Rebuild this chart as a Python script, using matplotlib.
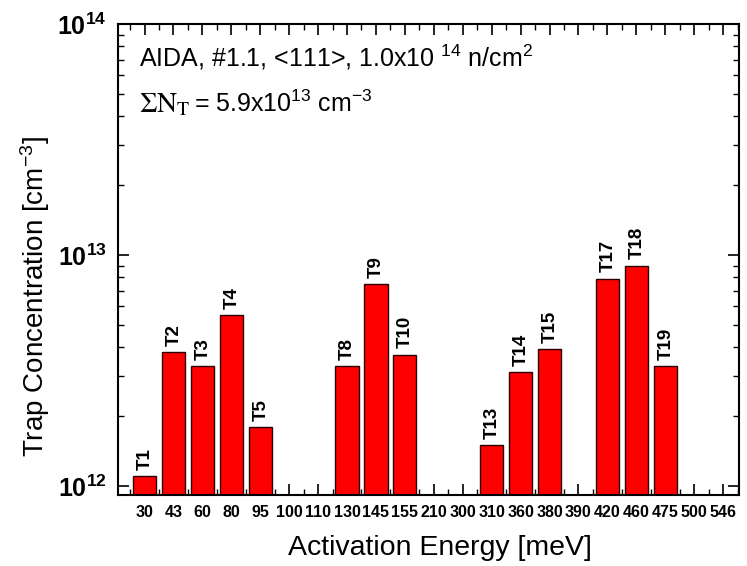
import numpy as np
import matplotlib
matplotlib.use("Agg")
import matplotlib.pyplot as plt
from matplotlib.ticker import FixedLocator, LogLocator, NullFormatter, FuncFormatter

# ---- data ----
energies = ['30', '43', '60', '80', '95', '100', '110', '130', '145', '155', '210',
            '300', '310', '360', '380', '390', '420', '460', '475', '500', '546']
trap_labels = ['T1', 'T2', 'T3', 'T4', 'T5', '', '', 'T8', 'T9', 'T10', '',
               '', 'T13', 'T14', 'T15', '', 'T17', 'T18', 'T19', '', '']
concentration = [1.1e12, 3.8e12, 3.3e12, 5.5e12, 1.8e12, np.nan, np.nan, 3.3e12, 7.5e12, 3.7e12, np.nan,
                 np.nan, 1.5e12, 3.1e12, 3.9e12, np.nan, 7.9e12, 9.0e12, 3.3e12, np.nan, np.nan]
y_decades = [12, 13, 14]

plt.rcParams['font.family'] = ['Liberation Sans', 'DejaVu Sans']
plt.rcParams['mathtext.fontset'] = 'custom'
plt.rcParams['mathtext.rm'] = 'Liberation Sans'
plt.rcParams['mathtext.it'] = 'Liberation Sans:italic'
plt.rcParams['mathtext.bf'] = 'Liberation Sans:bold'

fig = plt.figure(figsize=(7.47, 5.66), dpi=100)
ax = fig.add_axes([118 / 747, 1 - 495 / 566, (739 - 118) / 747, (495 - 24) / 566])

x = np.arange(len(energies))
vals = np.array(concentration, dtype=float)
mask = ~np.isnan(vals)
base = 1e11
ax.bar(x[mask], vals[mask] - base, width=0.8, bottom=base, color='#ff0000',
       edgecolor='#2a0000', linewidth=1.0, zorder=2)

for xi, v, lab in zip(x, vals, trap_labels):
    if lab and not np.isnan(v):
        ax.annotate(lab, xy=(xi, v), xytext=(0.5, 4.5), textcoords='offset points',
                    rotation=90, ha='center', va='bottom', fontsize=13.5,
                    fontweight='bold')

ax.set_yscale('log')
ax.set_ylim(10 ** (12 - 9 / 231), 10 ** 14)
ax.set_xlim(-0.917, 20.55)

ax.xaxis.set_major_locator(FixedLocator(x))
ax.xaxis.set_minor_locator(FixedLocator(np.arange(-0.5, len(energies), 1.0)))
ax.set_xticklabels(energies, fontsize=11.5, fontweight='bold')

ax.yaxis.set_major_locator(FixedLocator([10.0 ** d for d in y_decades]))
ax.yaxis.set_minor_locator(LogLocator(base=10, subs=np.arange(2, 10)))
ax.yaxis.set_minor_formatter(NullFormatter())
ax.yaxis.set_major_formatter(FuncFormatter(lambda v, p: r'$\mathbf{10^{%d}}$' % round(np.log10(v))))
for lab in ax.get_yticklabels():
    lab.set_fontsize(18)

ax.tick_params(axis='both', which='major', direction='in', length=8, width=1.2,
               top=True, right=True)
ax.tick_params(axis='both', which='minor', direction='in', length=4.5, width=1.0,
               top=True, right=True)
ax.tick_params(axis='x', which='major', pad=7)
ax.tick_params(axis='y', which='major', pad=8)
for s in ax.spines.values():
    s.set_linewidth(1.5)

fig.text(440 / 747, 1 - 548 / 566, 'Activation Energy [meV]', fontsize=20.5,
         ha='center', va='center')
fig.text(35 / 747, 1 - 297 / 566, 'Trap Concentration [cm$^{-3}$]', fontsize=20,
         ha='center', va='center', rotation=90)

fig.text(139 / 747, 1 - 67 / 566, 'AIDA, #1.1, <111>, 1.0x10 $^{14}$ n/cm$^{2}$',
         fontsize=18, ha='left', va='baseline')
fig.text(139 / 747, 1 - 112 / 566, r'$\Sigma\mathrm{N}_\mathrm{T}$', fontsize=20,
         ha='left', va='baseline', math_fontfamily='stix')
fig.text(194 / 747, 1 - 112 / 566, '= 5.9x10$^{13}$ cm$^{-3}$', fontsize=18,
         ha='left', va='baseline')

fig.savefig('out.png', dpi=100)
